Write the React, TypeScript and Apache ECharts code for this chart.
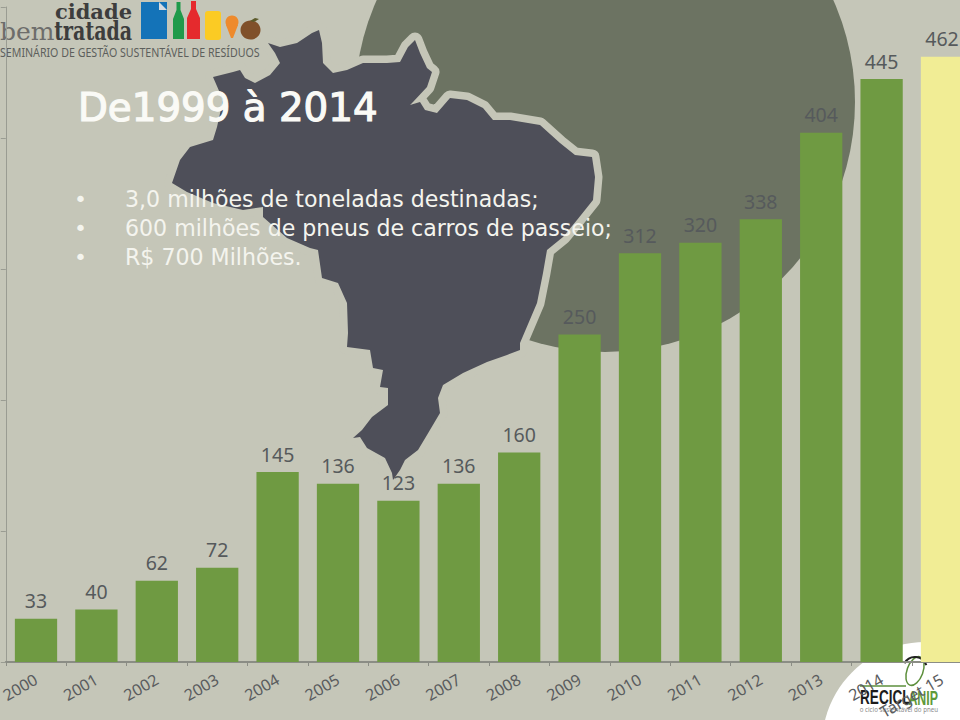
import React, { useEffect, useRef } from "react";
import * as echarts from "echarts";

const categories = ["2000","2001","2002","2003","2004","2005","2006","2007","2008","2009","2010","2011","2012","2013","2014","Target 15"];
const values = [33,40,62,72,145,136,123,136,160,250,312,320,338,404,445,462];
const targetCategory = "Target 15";
const titleText = "De1999 à 2014";
const bullets = ["3,0 milhões de toneladas destinadas;","600 milhões de pneus de carros de passeio;","R$ 700 Milhões."];

const BG = "#c5c6b8";
const FONT = '"Noto Sans", sans-serif';
const BODY = '"DejaVu Sans", sans-serif';

const brazil = [[213,77],[233,72],[240,70],[245,78],[255,83],[270,75],[280,63],[275,53],[268,43],[280,47],[297,43],[312,33],[319,30],[322,43],[323,63],[333,73],[347,70],[363,63],[387,63],[400,62],[408,47],[415,40],[420,53],[427,68],[432,72],[427,87],[413,102],[410,105],[420,102],[425,110],[437,113],[450,98],[467,100],[483,108],[493,120],[510,120],[540,125],[560,143],[575,155],[592,157],[595,177],[593,200],[577,220],[563,237],[547,250],[543,273],[537,303],[520,343],[520,350],[507,355],[487,362],[463,373],[443,385],[438,398],[440,413],[427,435],[418,450],[405,460],[400,470],[393,480],[392,473],[385,458],[367,448],[360,437],[353,438],[362,430],[372,417],[388,405],[388,388],[380,387],[383,370],[373,368],[370,350],[347,347],[348,333],[347,303],[338,283],[322,278],[318,250],[310,248],[287,238],[263,217],[263,207],[243,210],[213,203],[187,192],[172,183],[180,160],[190,147],[213,140],[217,127],[223,100]];

const bottle = (x: number, w: number, top: number, neck: number) => [
  [x + w / 2 - neck, top],[x + w / 2 + neck, top],[x + w / 2 + neck, top + 8],[x + w, top + 17],[x + w, 39],[x, 39],[x, top + 17],[x + w / 2 - neck, top + 8],
];

export default function App() {
  const ref = useRef<HTMLDivElement>(null);
  useEffect(() => {
    const chart = echarts.init(ref.current!, null, { renderer: "svg" });
    const txt = (x: number, y: number, text: string, font: string, fill: string, extra: any = {}, scaleX = 1) => ({
      type: "text", x, y, scaleX, z: -10, style: { text, font, fill, textVerticalAlign: "middle", ...extra },
    });
    const shapes: any[] = [
      { type: "circle", z: -20, shape: { cx: 605, cy: 102, r: 250 }, style: { fill: "#6c7362" } },
      { type: "polygon", z: -19, shape: { points: brazil }, style: { fill: BG, stroke: BG, lineWidth: 15, lineJoin: "round" } },
      { type: "polygon", z: -18, shape: { points: brazil }, style: { fill: "#4e4f59" } },
      { type: "circle", z: -17, shape: { cx: 925, cy: 745, r: 103 }, style: { fill: "#ffffff" } },
      // header logo
      txt(132, 11.5, "cidade", 'bold 21px "DejaVu Serif", serif', "#3d3d3d", { textAlign: "right" }),
      txt(132, 31, "tratada", 'bold 26px "DejaVu Serif", serif', "#3d3d3d", { textAlign: "right" }, 0.73),
      txt(0, 31, "bem", '25px "DejaVu Serif", serif', "#6d6d6b"),
      txt(0, 52, "SEMINÁRIO DE GESTÃO SUSTENTÁVEL DE RESÍDUOS", '12.6px "Noto Sans", sans-serif', "#5d5f5c", {}, 0.845),
      { type: "rect", z: -10, shape: { x: 141, y: 2, width: 26, height: 37 }, style: { fill: "#1473b8" } },
      { type: "polygon", z: -9, shape: { points: [[159,2],[167,10],[159,10]] }, style: { fill: "#d5dbe0" } },
      { type: "polygon", z: -10, shape: { points: bottle(173, 11, 2, 2) }, style: { fill: "#1f9a4a" } },
      { type: "polygon", z: -10, shape: { points: bottle(187, 13, 1, 2.5) }, style: { fill: "#e52a2d" } },
      { type: "rect", z: -10, shape: { x: 205, y: 11, width: 16, height: 29, r: 3 }, style: { fill: "#fbcb24" } },
      { type: "circle", z: -10, shape: { cx: 232, cy: 22, r: 6.5 }, style: { fill: "#ee8a2c" } },
      { type: "polygon", z: -10, shape: { points: [[226,25],[238,25],[233,38],[231,38]] }, style: { fill: "#ee8a2c" } },
      { type: "ellipse", z: -10, shape: { cx: 250.5, cy: 30, rx: 10, ry: 9.5 }, style: { fill: "#80502a" } },
      { type: "polygon", z: -10, shape: { points: [[250,21],[255,18],[259,19],[254,22]] }, style: { fill: "#5c5a2a" } },
      // recycling logo
      { type: "line", z: -10, shape: { x1: 860, y1: 686, x2: 906, y2: 686 }, style: { stroke: "#5d8f3c", lineWidth: 1.5 } },
      { type: "ellipse", z: -10, x: 915, y: 671, rotation: -0.35, shape: { cx: 0, cy: 0, rx: 8, ry: 15 }, style: { fill: "none", stroke: "#5d8f3c", lineWidth: 1.5 } },
      { type: "arc", z: -9, x: 915, y: 669, rotation: -0.35, shape: { cx: 0, cy: 0, r: 12, startAngle: 3.3, endAngle: 5.6 }, style: { fill: "none", stroke: "#222222", lineWidth: 2 } },
      txt(860, 698, "RECICL", 'bold 20px "Liberation Sans", sans-serif', "#1c1c1c", {}, 0.68),
      txt(938, 698, "ANIP", 'bold 20px "Liberation Sans", sans-serif', "#5f9a3a", { textAlign: "right" }, 0.62),
      txt(938, 709, "o ciclo sustentável do pneu", '7px "Noto Sans", sans-serif', "#8a8a8a", { textAlign: "right" }, 0.88),
      // text block
      txt(78, 107, titleText, '38.8px "DejaVu Sans", sans-serif', "#fafaf6", { stroke: "#fafaf6", lineWidth: 1.2 }),
      ...bullets.flatMap((b, i) => [
        txt(74, 199 + i * 29, "•", `22px ${BODY}`, "#f4f4ee"),
        txt(125, 199 + i * 29, b, `22.1px ${BODY}`, "#f4f4ee"),
      ]),
    ];
    chart.setOption({
      animation: false,
      backgroundColor: BG,
      grid: { left: 5.8, top: 7, width: 966.4, height: 655, containLabel: false, outerBoundsMode: "none" },
      graphic: { elements: shapes },
      xAxis: {
        type: "category",
        data: categories,
        axisLine: { lineStyle: { color: "#8b8d85", width: 2 } },
        axisTick: { show: true, length: 4, alignWithLabel: false, lineStyle: { color: "#8b8d85" } },
        axisLabel: { interval: 0, rotate: 30, margin: 16, fontFamily: FONT, fontSize: 16, color: "#5a5c5e", hideOverlap: false },
      },
      yAxis: {
        type: "value", min: 0, max: 500, interval: 100,
        axisLine: { show: true, lineStyle: { color: "#9a9c92", width: 1 } },
        axisTick: { show: true, length: 5, lineStyle: { color: "#9a9c92" } },
        axisLabel: { show: false },
        splitLine: { show: false },
      },
      series: [{
        type: "bar",
        barCategoryGap: "30%",
        data: values.map((v, i) => ({ value: v, itemStyle: { color: categories[i] === targetCategory ? "#f1ed95" : "#6f9a42" } })),
        label: { show: true, position: "top", distance: 8, fontFamily: FONT, fontSize: 19.5, color: "#565a5c" },
      }],
    });
    return () => chart.dispose();
  }, []);
  return <div ref={ref} style={{ position: "absolute", left: 0, top: 0, width: 960, height: 720 }} />;
}
